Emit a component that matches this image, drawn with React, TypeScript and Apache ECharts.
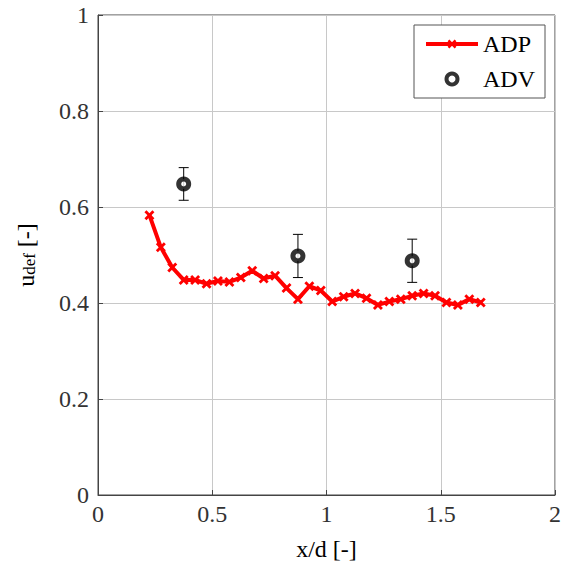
import React, { useEffect, useRef } from "react";
import * as echarts from "echarts";

const adpX = [0.225, 0.275, 0.325, 0.375, 0.425, 0.475, 0.525, 0.575, 0.625, 0.675, 0.725, 0.775, 0.825, 0.875, 0.925, 0.975, 1.025, 1.075, 1.125, 1.175, 1.225, 1.275, 1.325, 1.375, 1.425, 1.475, 1.525, 1.575, 1.625, 1.675];
const adpY = [0.583, 0.516, 0.474, 0.448, 0.448, 0.440, 0.446, 0.444, 0.453, 0.467, 0.451, 0.457, 0.431, 0.408, 0.435, 0.426, 0.403, 0.413, 0.420, 0.410, 0.396, 0.403, 0.408, 0.415, 0.420, 0.415, 0.401, 0.396, 0.408, 0.401];
const advX = [0.375, 0.875, 1.375];
const advY = [0.648, 0.498, 0.488];
const advErr = [0.034, 0.045, 0.045];

const FONT = "Liberation Serif";
const CROSS = "path://M2,0L5,3L8,0L10,2L7,5L10,8L8,10L5,7L2,10L0,8L3,5L0,2Z";

export default function App() {
  const ref = useRef<HTMLDivElement>(null);
  useEffect(() => {
    if (!ref.current) return;
    const chart = echarts.init(ref.current, null, { renderer: "svg" });
    const adpData = adpX.map((x, i) => [x, adpY[i]]);
    const advData = advX.map((x, i) => [x, advY[i]]);
    const errData = advX.map((x, i) => [x, advY[i] - advErr[i], advY[i] + advErr[i]]);
    chart.setOption({
      animation: false,
      backgroundColor: "#fff",
      grid: {
        left: 98, right: 10, top: 15, bottom: 69,
        show: true, borderColor: "#444", borderWidth: 1,
        outerBoundsMode: "none", containLabel: false,
      },
      legend: {
        data: [
          { name: "ADP", lineStyle: { width: 4, color: "#ff0000" } },
          { name: "ADV", icon: "circle", itemStyle: { color: "#fff", borderColor: "#000", borderWidth: 4 } },
        ],
        orient: "vertical",
        right: 20,
        top: 25,
        backgroundColor: "#fff",
        borderColor: "#555",
        borderWidth: 1,
        borderRadius: 0,
        padding: [7, 10, 7, 10],
        itemWidth: 52,
        itemHeight: 11,
        itemGap: 11,
        textStyle: { fontFamily: FONT, fontSize: 24, color: "#000" },
      },
      xAxis: {
        type: "value",
        min: 0,
        max: 2,
        interval: 0.5,
        name: "x/d [-]",
        nameLocation: "middle",
        nameGap: 42,
        nameTextStyle: { fontFamily: FONT, fontSize: 24, color: "#000" },
        axisLine: { show: true, onZero: false, lineStyle: { color: "#444" } },
        axisTick: { show: true, inside: true, length: 5, lineStyle: { color: "#444" } },
        axisLabel: { fontFamily: FONT, fontSize: 24, color: "#333", margin: 7 },
        splitLine: { show: true, lineStyle: { color: "#c8c8c8", width: 1 } },
      },
      yAxis: {
        type: "value",
        min: 0,
        max: 1,
        interval: 0.2,
        name: "{a|u}{b|def}{a| [-]}",
        nameLocation: "middle",
        nameGap: 60,
        nameTextStyle: {
          fontFamily: FONT,
          color: "#000",
          rich: {
            a: { fontFamily: FONT, fontSize: 24, color: "#000", verticalAlign: "bottom", lineHeight: 26 },
            b: { fontFamily: FONT, fontSize: 17, color: "#000", verticalAlign: "bottom", lineHeight: 18 },
          },
        },
        axisLine: { show: true, lineStyle: { color: "#444" } },
        axisTick: { show: true, inside: true, length: 5, lineStyle: { color: "#444" } },
        axisLabel: { fontFamily: FONT, fontSize: 24, color: "#333", margin: 9 },
        splitLine: { show: true, lineStyle: { color: "#c8c8c8", width: 1 } },
      },
      series: [
        {
          name: "ADP",
          type: "line",
          data: adpData,
          symbol: CROSS,
          symbolSize: 10,
          itemStyle: { color: "#ff0000" },
          lineStyle: { color: "#ff0000", width: 4 },
          z: 3,
        },
        {
          name: "errbars",
          type: "custom",
          data: errData,
          z: 4,
          renderItem: (params: any, api: any) => {
            const x = api.value(0);
            const lo = api.coord([x, api.value(1)]);
            const hi = api.coord([x, api.value(2)]);
            const w = 5;
            const style = { stroke: "#000", lineWidth: 1 };
            return {
              type: "group",
              children: [
                { type: "line", shape: { x1: lo[0], y1: lo[1], x2: hi[0], y2: hi[1] }, style },
                { type: "line", shape: { x1: lo[0] - w, y1: lo[1], x2: lo[0] + w, y2: lo[1] }, style },
                { type: "line", shape: { x1: hi[0] - w, y1: hi[1], x2: hi[0] + w, y2: hi[1] }, style },
              ],
            };
          },
        },
        {
          name: "ADV",
          type: "scatter",
          data: advData,
          symbol: "circle",
          symbolSize: 10,
          itemStyle: { color: "#fff", borderColor: "#000", borderWidth: 5 },
          z: 5,
        },
      ],
    });
    return () => chart.dispose();
  }, []);
  return <div ref={ref} style={{ width: 565, height: 564, position: "absolute", left: 0, top: 0 }} />;
}
